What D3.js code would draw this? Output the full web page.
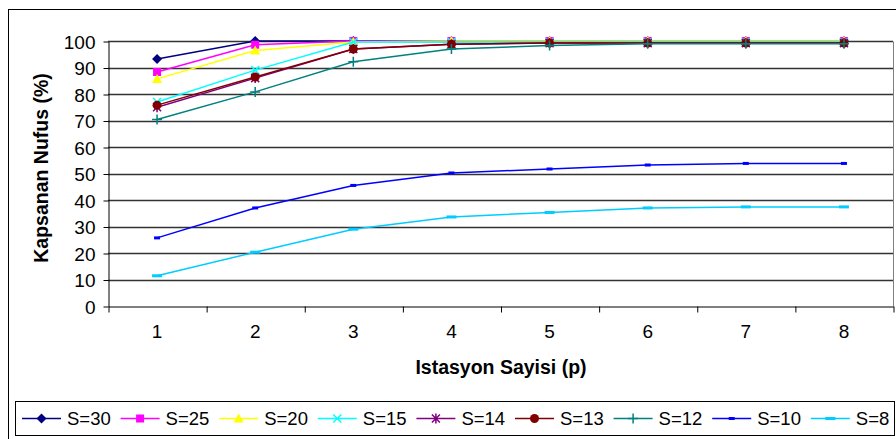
<!DOCTYPE html>
<html lang="tr">
<head>
<meta charset="UTF-8">
<title>Kapsanan Nufus</title>
<script src="https://d3js.org/d3.v7.min.js"></script>
<style>
    body { margin: 0; background: #fff; }
    svg { display: block; font-family: "Liberation Sans", Arial, sans-serif; }
    .axis text { font-size: 19px; fill: #000; }
    .axis path, .axis line { stroke: #000; }
    .title { font-size: 19.5px; font-weight: bold; }
</style>
</head>
<body>
<div id="chart"></div>
<script>
// stations count (x categories)
const stations = [1, 2, 3, 4, 5, 6, 7, 8];
const yTicks = [0, 10, 20, 30, 40, 50, 60, 70, 80, 90, 100];

// covered population (%) per S value
const s30 = [93.2, 100, 100, 100, 100, 100, 100, 100];
const s25 = [88.3, 98.6, 100, 100, 100, 100, 100, 100];
const s20 = [85.7, 96.4, 99.6, 100, 100, 100, 100, 100];
const s15 = [77.0, 89.0, 99.6, 99.6, 99.6, 99.6, 99.6, 99.6];
const s14 = [75.0, 86.0, 97.0, 98.8, 99.2, 99.2, 99.2, 99.2];
const s13 = [75.8, 86.4, 97.0, 98.8, 99.2, 99.2, 99.2, 99.2];
const s12 = [70.4, 80.8, 92.2, 97.0, 98.3, 99.0, 99.0, 99.0];
const s10 = [25.7, 37.0, 45.5, 50.2, 51.7, 53.2, 53.8, 53.8];
const s8  = [11.4, 20.3, 29.0, 33.6, 35.3, 37.0, 37.4, 37.4];

const seriesNames = ["S=30", "S=25", "S=20", "S=15", "S=14", "S=13", "S=12", "S=10", "S=8"];
const seriesValues = [s30, s25, s20, s15, s14, s13, s12, s10, s8];
const colors = ["#000080", "#FF00FF", "#FFFF00", "#00FFFF", "#800080", "#800000", "#008080", "#0000FF", "#00CCFF"];
const markers = ["diamond", "square", "triangle", "cross", "star", "circle", "plus", "dashSmall", "dash"];

const W = 896, H = 439;
const plot = { left: 108, right: 893, top: 41, bottom: 306 };

const svg = d3.select("#chart").append("svg")
    .attr("width", W)
    .attr("height", H);

// outer chart frame (right and bottom edges fall outside the window)
svg.append("rect")
    .attr("x", 8.5).attr("y", 9.5)
    .attr("width", 900).attr("height", 440)
    .attr("fill", "#fff").attr("stroke", "#000");

const x = d3.scaleBand()
    .domain(stations)
    .range([plot.left, plot.right]);
const xEdge = d3.scaleLinear()
    .domain([0, stations.length])
    .range([plot.left, plot.right]);
const y = d3.scaleLinear()
    .domain([0, 100])
    .range([plot.bottom, plot.top]);

// gridlines
svg.append("g")
    .selectAll("line")
    .data(yTicks.slice(1))
    .enter().append("line")
    .attr("x1", plot.left).attr("x2", plot.right)
    .attr("y1", d => Math.round(y(d)) + 0.5)
    .attr("y2", d => Math.round(y(d)) + 0.5)
    .attr("stroke", "#333")
    .attr("stroke-width", 1.3);

// right border of plot area
svg.append("line")
    .attr("x1", plot.right + 0.5).attr("x2", plot.right + 0.5)
    .attr("y1", Math.round(plot.top) + 0.5).attr("y2", plot.bottom)
    .attr("stroke", "#808080");

// y axis
svg.append("g")
    .attr("class", "axis")
    .attr("transform", `translate(${plot.left + 0.5},0.5)`)
    .call(d3.axisLeft(y).tickValues(yTicks).tickSize(5).tickPadding(8).tickSizeOuter(0))
    .call(g => g.selectAll("text").attr("dy", "0.36em"));

// x axis: boundary ticks
svg.append("g")
    .attr("class", "axis")
    .attr("transform", `translate(0.5,${Math.round(plot.bottom) + 0.5})`)
    .call(d3.axisBottom(xEdge).tickValues(d3.range(0, stations.length + 1)).tickFormat("").tickSize(6).tickSizeOuter(0));

// x axis: category labels
svg.append("g")
    .attr("class", "axis")
    .attr("transform", `translate(0,${plot.bottom})`)
    .call(d3.axisBottom(x).tickSize(0).tickPadding(19))
    .call(g => g.select(".domain").remove());

// axis titles
svg.append("text")
    .attr("class", "title")
    .attr("x", 501)
    .attr("y", 374)
    .attr("text-anchor", "middle")
    .text("Istasyon Sayisi (p)");

svg.append("text")
    .attr("class", "title")
    .attr("transform", "translate(48,168) rotate(-90)")
    .attr("text-anchor", "middle")
    .text("Kapsanan Nufus (%)");

// marker drawing
function drawMarker(g, type, color) {
    switch (type) {
        case "diamond":
            g.append("path").attr("d", "M0,-5L5,0L0,5L-5,0Z").attr("fill", color);
            break;
        case "square":
            g.append("rect").attr("x", -4).attr("y", -4).attr("width", 8).attr("height", 8).attr("fill", color);
            break;
        case "triangle":
            g.append("path").attr("d", "M0,-5L5,4L-5,4Z").attr("fill", color);
            break;
        case "cross":
            g.append("path").attr("d", "M-4,-4L4,4M-4,4L4,-4").attr("stroke", color).attr("stroke-width", 1.5);
            break;
        case "star":
            g.append("path").attr("d", "M-4,-4L4,4M-4,4L4,-4M0,-5L0,5").attr("stroke", color).attr("stroke-width", 1.5);
            break;
        case "circle":
            g.append("circle").attr("r", 4.5).attr("fill", color);
            break;
        case "plus":
            g.append("path").attr("d", "M-5,0L5,0M0,-5L0,5").attr("stroke", color).attr("stroke-width", 1.5);
            break;
        case "dashSmall":
            g.append("rect").attr("x", -3).attr("y", -1.5).attr("width", 6).attr("height", 3).attr("fill", color);
            break;
        case "dash":
            g.append("rect").attr("x", -5).attr("y", -1.5).attr("width", 10).attr("height", 3).attr("fill", color);
            break;
    }
}

const line = d3.line()
    .x((d, i) => x(stations[i]) + x.bandwidth() / 2)
    .y(d => y(d));

seriesValues.forEach((vals, si) => {
    const g = svg.append("g");
    g.append("path")
        .datum(vals)
        .attr("d", line)
        .attr("fill", "none")
        .attr("stroke", colors[si])
        .attr("stroke-width", 1.5);
    vals.forEach((v, i) => {
        const m = g.append("g")
            .attr("transform", `translate(${x(stations[i]) + x.bandwidth() / 2},${y(v)})`);
        drawMarker(m, markers[si], colors[si]);
    });
});

// legend
svg.append("rect")
    .attr("x", 15.5).attr("y", 401.5)
    .attr("width", 879).attr("height", 34)
    .attr("fill", "#fff").attr("stroke", "#000");

const legendStep = 98.6;
const legend = svg.append("g")
    .selectAll("g")
    .data(seriesNames)
    .enter().append("g")
    .attr("transform", (d, i) => `translate(${22 + i * legendStep},418.5)`);

legend.append("line")
    .attr("x1", 0).attr("x2", 39)
    .attr("stroke", (d, i) => colors[i])
    .attr("stroke-width", 1.5);

legend.each(function(d, i) {
    const m = d3.select(this).append("g").attr("transform", "translate(19.5,0)");
    drawMarker(m, markers[i], colors[i]);
});

legend.append("text")
    .attr("x", 45)
    .attr("dy", "0.36em")
    .style("font-size", "18.5px")
    .text(d => d);
</script>
</body>
</html>
